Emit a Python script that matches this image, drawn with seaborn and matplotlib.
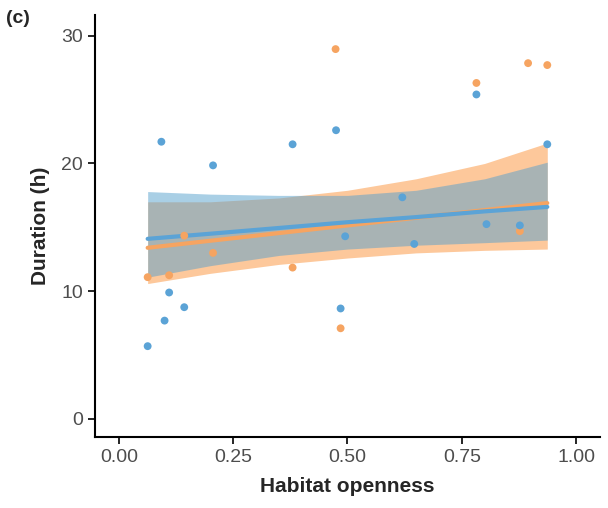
import pandas as pd
import seaborn as sns
import matplotlib.pyplot as plt

# blue series
blue_x = [0.063, 0.093, 0.10, 0.11, 0.143, 0.206, 0.38, 0.475, 0.495, 0.485,
          0.62, 0.646, 0.782, 0.804, 0.877, 0.937]
blue_y = [5.7, 21.7, 7.7, 9.9, 8.75, 19.85, 21.5, 22.6, 14.3, 8.65,
          17.35, 13.7, 25.4, 15.25, 15.15, 21.5]
# orange series
orange_x = [0.063, 0.11, 0.143, 0.206, 0.38, 0.485, 0.474, 0.782, 0.895, 0.937, 0.877]
orange_y = [11.1, 11.25, 14.35, 13.0, 11.85, 7.1, 28.95, 26.3, 27.85, 27.7, 14.7]

# model fits
fit_x = [0.063, 0.2, 0.35, 0.5, 0.65, 0.8, 0.937]
blue_fit = [14.1, 14.5, 14.95, 15.4, 15.8, 16.25, 16.6]
blue_lo = [11.1, 12.0, 12.8, 13.3, 13.6, 13.8, 14.0]
blue_hi = [17.8, 17.6, 17.5, 17.5, 17.9, 18.8, 20.1]
orange_fit = [13.4, 13.95, 14.55, 15.15, 15.75, 16.35, 16.9]
orange_lo = [10.6, 11.4, 12.1, 12.6, 13.0, 13.2, 13.3]
orange_hi = [17.0, 17.0, 17.3, 17.9, 18.8, 20.0, 21.6]

BLUE = "#5ba3d6"
ORANGE = "#f6a461"

sns.set_theme(style="ticks")
plt.rcParams["font.family"] = ["Liberation Sans", "DejaVu Sans"]
fig, ax = plt.subplots(figsize=(6.08, 5.08), dpi=100)

ax.fill_between(fit_x, orange_lo, orange_hi, color="#fdc89b", lw=0, zorder=1)
ax.fill_between(fit_x, blue_lo, blue_hi, color=(85/255, 160/255, 205/255), alpha=0.5, lw=0, zorder=2)
fits = pd.DataFrame({"x": fit_x * 2, "y": orange_fit + blue_fit,
                     "grp": ["o"] * len(fit_x) + ["b"] * len(fit_x)})
sns.lineplot(data=fits, x="x", y="y", hue="grp", palette={"o": ORANGE, "b": BLUE},
             lw=3, legend=False, ax=ax, zorder=3)

pts = pd.DataFrame({"x": orange_x + blue_x, "y": orange_y + blue_y,
                    "grp": ["o"] * len(orange_x) + ["b"] * len(blue_x)})
sns.scatterplot(data=pts, x="x", y="y", hue="grp", palette={"o": ORANGE, "b": BLUE},
                s=32, linewidth=0, legend=False, ax=ax, zorder=4)

ax.set_xlim(-0.0525, 1.0525)
ax.set_ylim(-1.4, 31.6)
ax.set_xticks([0, 0.25, 0.5, 0.75, 1.0])
ax.set_xticklabels(["0.00", "0.25", "0.50", "0.75", "1.00"])
ax.set_yticks([0, 10, 20, 30])
ax.tick_params(labelsize=14, labelcolor="#4d4d4d", color="black", length=5, width=1.2)
for s in ["left", "bottom"]:
    ax.spines[s].set_linewidth(1.5)
    ax.spines[s].set_color("black")
sns.despine(ax=ax)
ax.set_xlabel("Habitat openness", fontsize=15, fontweight="bold", labelpad=8)
ax.set_ylabel("Duration (h)", fontsize=15, fontweight="bold", labelpad=8)
fig.text(0.01, 0.955, "(c)", fontsize=14, fontweight="bold")
fig.subplots_adjust(left=0.156, right=0.987, bottom=0.14, top=0.97)
fig.savefig("out.png")
